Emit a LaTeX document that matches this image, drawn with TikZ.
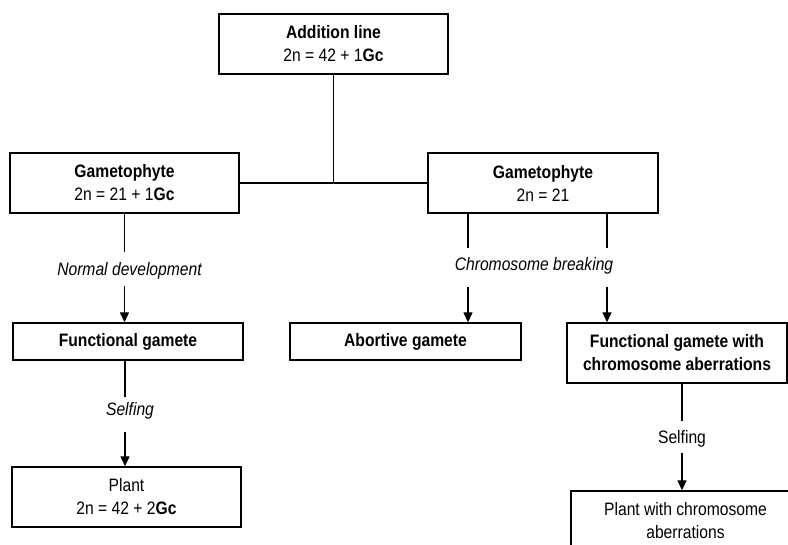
\documentclass[tikz,border=0pt]{standalone}
\usepackage{fontspec}
\setmainfont{Liberation Sans}[FakeStretch=0.87]
\usetikzlibrary{arrows.meta}
\begin{document}
\begin{tikzpicture}[x=1pt,y=-1pt,
  box/.style={draw, line width=1.4pt, inner sep=0pt, align=center,
    font=\fontsize{18}{23}\selectfont},
  lbl/.style={inner sep=0pt, font=\fontsize{18}{20}\selectfont},
  ln/.style={line width=1.4pt},
  arr/.style={line width=1.4pt, -{Triangle[width=9pt,length=10pt]}}]
\useasboundingbox (0,0) rectangle (788,545);
% boxes
\node[box, minimum width=229, minimum height=60] (add) at (333.5,44) {\textbf{Addition line}\\2n = 42 + 1\textbf{Gc}};
\node[box, minimum width=229, minimum height=60] (gl) at (124.5,183) {\textbf{Gametophyte}\\2n = 21 + 1\textbf{Gc}};
\node[box, minimum width=230, minimum height=60] (gr) at (543,183) {\textbf{Gametophyte}\\2n = 21};
\node[box, minimum width=230, minimum height=37] (fg) at (128,341.5) {\textbf{Functional gamete}};
\node[box, minimum width=231, minimum height=37] (ab) at (405.5,341.5) {\textbf{Abortive gamete}};
\node[box, minimum width=220, minimum height=60] (fga) at (677,353) {\textbf{Functional gamete with}\\\textbf{chromosome aberrations}};
\node[box, minimum width=229, minimum height=60] (pl) at (126.5,497) {Plant\\2n = 42 + 2\textbf{Gc}};
\node[box, minimum width=229, minimum height=60] (pca) at (685.5,521) {Plant with chromosome\\aberrations};
% labels
\node[lbl] (nd) at (129.5,271) {\itshape Normal development};
\node[lbl] (cb) at (534,266) {\itshape Chromosome breaking};
\node[lbl] (s1) at (130,411) {\itshape Selfing};
\node[lbl] (s2) at (682,439) {Selfing};
% break points
\coordinate (a1) at (124.5,252);
\coordinate (a2) at (124.5,286);
\coordinate (b1) at (468,248);
\coordinate (b2) at (468,287);
\coordinate (c1) at (607,248);
\coordinate (c2) at (607,287);
\coordinate (d1) at (125,397);
\coordinate (d2) at (125,432);
\coordinate (e1) at (682,421);
\coordinate (e2) at (682,453);
% connectors
\draw[ln] (gl.east) -- (gr.west);
\draw[ln] (add.south) -- (add.south |- gl.east);
\draw[ln] (gl.south) -- (a1);
\draw[arr] (a2) -- (a2 |- fg.north);
\draw[ln] (b1 |- gr.south) -- (b1);
\draw[arr] (b2) -- (b2 |- ab.north);
\draw[ln] (c1 |- gr.south) -- (c1);
\draw[arr] (c2) -- (c2 |- fga.north);
\draw[ln] (d1 |- fg.south) -- (d1);
\draw[arr] (d2) -- (d2 |- pl.north);
\draw[ln] (e1 |- fga.south) -- (e1);
\draw[arr] (e2) -- (e2 |- pca.north);
\end{tikzpicture}
\end{document}
